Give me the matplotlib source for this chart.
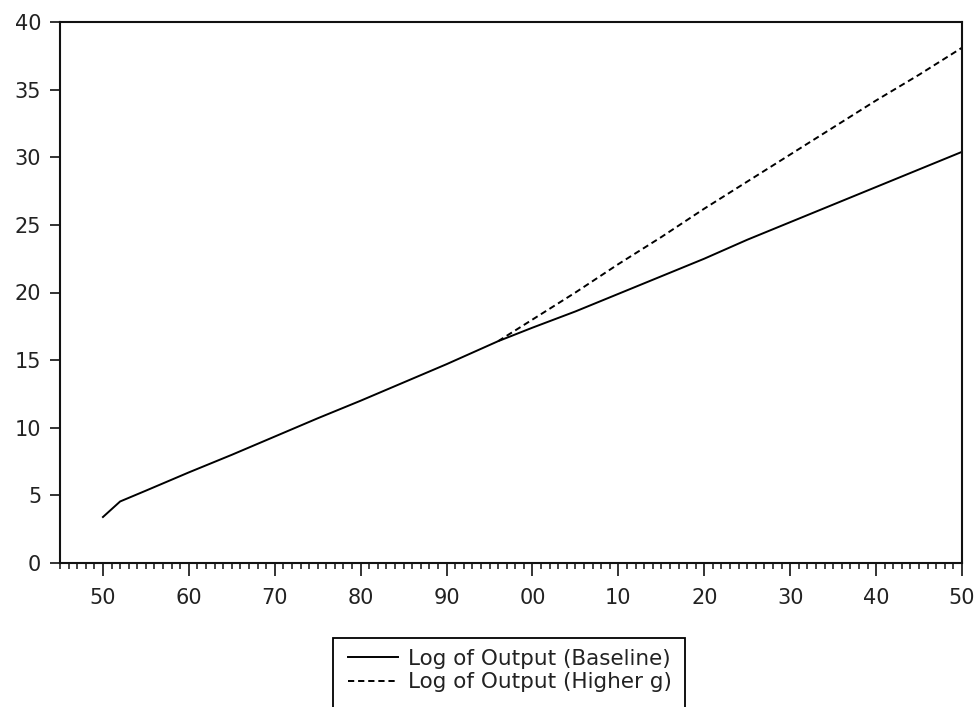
import matplotlib
matplotlib.use("Agg")
import matplotlib.pyplot as plt
from matplotlib.patches import Rectangle
from matplotlib.ticker import MultipleLocator, FuncFormatter, FixedLocator

# Data
base_years = [1950, 1952, 1955, 1960, 1965, 1970, 1975, 1980, 1985, 1990, 1996,
              2000, 2005, 2010, 2015, 2020, 2025, 2030, 2035, 2040, 2045, 2050]
base_vals = [3.4, 4.55, 5.35, 6.7, 8.0, 9.35, 10.7, 12.0, 13.35, 14.7, 16.4,
             17.4, 18.6, 19.9, 21.2, 22.5, 23.9, 25.2, 26.5, 27.8, 29.1, 30.4]

high_years = [1996, 2000, 2005, 2010, 2015, 2020, 2025, 2030, 2035, 2040, 2045, 2050]
high_vals = [16.4, 18.0, 20.0, 22.1, 24.1, 26.2, 28.2, 30.2, 32.2, 34.2, 36.1, 38.1]

x_major = list(range(1950, 2051, 10))
y_major = [0, 5, 10, 15, 20, 25, 30, 35, 40]

plt.rcParams['font.family'] = ['DejaVu Sans']

W, H = 979, 707
fig = plt.figure(figsize=(W/100, H/100), dpi=100)
ax = fig.add_axes([60/W, 1-563/H, (962-60)/W, (563-22)/H])

ax.plot(base_years, base_vals, color='black', lw=1.4, label='Log of Output (Baseline)')
ax.plot(high_years, high_vals, color='black', lw=1.4, dashes=(3.2, 2),
        label='Log of Output (Higher g)')

ax.set_xlim(1945, 2050)
ax.set_ylim(0, 40)
ax.xaxis.set_major_locator(FixedLocator(x_major))
ax.xaxis.set_minor_locator(MultipleLocator(1))
ax.xaxis.set_major_formatter(FuncFormatter(lambda v, p: '%02d' % (int(round(v)) % 100)))
ax.yaxis.set_major_locator(FixedLocator(y_major))

for s in ax.spines.values():
    s.set_linewidth(1.5)
    s.set_color('#111111')

ax.tick_params(axis='x', which='major', direction='out', length=9, width=1.2,
               pad=9, labelsize=15, labelcolor='#222222', color='#111111')
ax.tick_params(axis='x', which='minor', direction='out', length=4.5, width=1.1,
               color='#111111')
ax.tick_params(axis='y', which='major', direction='out', length=7.5, width=1.2,
               pad=6, labelsize=15, labelcolor='#222222', color='#111111')

# legend frame (extends below the figure edge, as in the reference)
fig.patches.append(Rectangle((333/W, 1-730/H), (685-333)/W, (730-638)/H,
                             transform=fig.transFigure, facecolor='white',
                             edgecolor='black', linewidth=1.3, zorder=1))

leg = fig.legend(loc='upper left', bbox_to_anchor=(337/W, 1-638/H),
                 bbox_transform=fig.transFigure, fontsize=15.5, frameon=False,
                 handlelength=2.33, handletextpad=0.47, labelspacing=0.17,
                 borderpad=0.5, borderaxespad=0)
leg.set_zorder(5)
for t in leg.get_texts():
    t.set_color('#222222')

fig.savefig('out.png', dpi=100)
